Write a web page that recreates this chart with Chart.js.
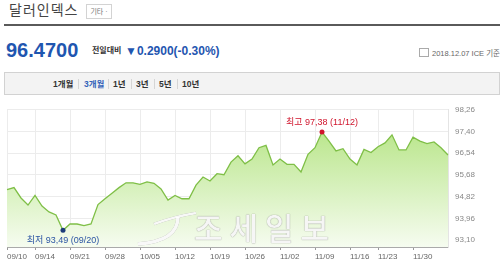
<!DOCTYPE html>
<html>
<head>
<meta charset="utf-8">
<script src="https://cdn.jsdelivr.net/npm/chart.js@4"></script>
<style>
  html, body { margin: 0; padding: 0; background: #fff; }
  body { width: 500px; height: 266px; position: relative; overflow: hidden;
         font-family: "Liberation Sans", Arial, "Noto Sans CJK KR", sans-serif; }
  .abs { position: absolute; white-space: nowrap; }
  #title { left: 9px; top: 3px; font-size: 14px; line-height: 14px; color: #444; letter-spacing: 1px; }
  #tag { left: 86px; top: 4px; width: 24px; height: 13px; border: 1px solid #d3d3d3; font-size: 7px;
         line-height: 13px; color: #777; text-align: center; }
  #rule { left: 4px; top: 24px; width: 496px; height: 2px; background: #5a5a5a; }
  #price { left: 6px; top: 40px; font-size: 20px; line-height: 20px; font-weight: bold; color: #1f56b0; }
  #diffLabel { left: 92px; top: 46px; font-size: 8px; line-height: 10px; color: #333; font-weight: bold; }
  #diff { left: 125px; top: 45px; font-size: 12px; line-height: 12px; font-weight: bold; color: #1f56b0; }
  #asof { left: 419px; top: 48px; font-size: 7.5px; line-height: 9px; color: #666; }
  #asof i { display: inline-block; width: 8px; height: 7px; border: 1px solid #aaa; margin-right: 3px; vertical-align: -1px; }
  #tabs { left: 4px; top: 72px; width: 494px; height: 21px; border: 1px solid #d2d2d2; background: #f3f3f3; }
  .tab { top: 79px; font-size: 8.5px; line-height: 10px; font-weight: bold; color: #333; }
  .sep { top: 79px; width: 1px; height: 10px; background: #d5d5d5; }
  #chart { position: absolute; left: 0; top: 98px; }
  #mark { left: 194px; top: 207px; font-size: 31px; line-height: 40px; font-weight: 500; letter-spacing: 7px;
          font-family: "Noto Sans CJK KR", sans-serif;
          color: rgba(255,255,255,0.92);
          text-shadow: 0 0 1px rgba(90,90,90,0.55), 0 0 1px rgba(90,90,90,0.35); }
  #swoosh { position: absolute; left: 132px; top: 208px; }
</style>
</head>
<body>
<div class="abs" id="title">달러인덱스</div>
<div class="abs" id="tag">기타 ·</div>
<div class="abs" id="rule"></div>
<div class="abs" id="price">96.4700</div>
<div class="abs" id="diffLabel">전일대비</div>
<div class="abs" id="diff">▼0.2900(-0.30%)</div>
<div class="abs" id="asof"><i></i>2018.12.07 ICE 기준</div>
<div class="abs" id="tabs"></div>
<div class="abs tab" style="left:53px">1개월</div>
<div class="abs sep" style="left:78px"></div>
<div class="abs tab" style="left:84px;color:#3563b9">3개월</div>
<div class="abs sep" style="left:108px"></div>
<div class="abs tab" style="left:113px">1년</div>
<div class="abs sep" style="left:131px"></div>
<div class="abs tab" style="left:136px">3년</div>
<div class="abs sep" style="left:154px"></div>
<div class="abs tab" style="left:159px">5년</div>
<div class="abs sep" style="left:177px"></div>
<div class="abs tab" style="left:182px">10년</div>
<canvas id="chart" width="500" height="168"></canvas>
<svg id="swoosh" width="70" height="45">
  <g fill="none" stroke="rgba(255,255,255,0.92)" style="filter: drop-shadow(0 0 0.6px rgba(90,90,90,0.6))">
    <path d="M22 16 C 38 10, 52 7, 64 5" stroke-width="2.5"/>
    <path d="M46 9 C 46 24, 34 34, 6 36" stroke-width="3.5"/>
  </g>
</svg>
<div class="abs" id="mark">조세일보</div>
<script>
const dates = [
  '09/10', '09/11', '09/12', '09/13', '09/14',
  '09/17', '09/18', '09/19', '09/20', '09/21',
  '09/24', '09/25', '09/26', '09/27', '09/28',
  '10/01', '10/02', '10/03', '10/04', '10/05',
  '10/08', '10/09', '10/10', '10/11', '10/12',
  '10/15', '10/16', '10/17', '10/18', '10/19',
  '10/22', '10/23', '10/24', '10/25', '10/26',
  '10/29', '10/30', '10/31', '11/01', '11/02',
  '11/05', '11/06', '11/07', '11/08', '11/09',
  '11/12', '11/13', '11/14', '11/15', '11/16',
  '11/19', '11/20', '11/21', '11/23',
  '11/26', '11/27', '11/28', '11/29', '11/30',
  '12/03', '12/04', '12/05', '12/06', '12/07'
];

const dollarIndex = [
  95.10, 95.18, 94.77, 94.49, 94.87,
  94.45, 94.22, 94.10, 93.49, 93.74,
  93.74, 93.68, 93.74, 94.51, 94.74,
  94.96, 95.18, 95.37, 95.37, 95.31,
  95.41, 95.35, 95.13, 94.69, 94.87,
  94.74, 94.74, 95.28, 95.60, 95.44,
  95.73, 95.69, 96.19, 96.44, 96.12,
  96.31, 96.76, 96.85, 96.08, 96.31,
  96.10, 96.10, 95.80, 96.50, 96.76,
  97.38, 97.02, 96.63, 96.72, 96.31,
  96.08, 96.69, 96.57, 96.80,
  96.95, 97.27, 96.67, 96.67, 97.18,
  97.02, 96.92, 96.99, 96.76, 96.47
];

const tickDates = ['09/10', '09/14', '09/21', '09/28', '10/05', '10/12', '10/19',
                   '10/26', '11/02', '11/09', '11/16', '11/23', '11/30'];
const yTicks = [93.10, 93.96, 94.82, 95.68, 96.54, 97.40, 98.26];

const highIdx = dollarIndex.indexOf(Math.max(...dollarIndex));
const lowIdx = dollarIndex.indexOf(Math.min(...dollarIndex));
const fmt = v => v.toFixed(2).replace('.', ',');

// 최고/최저 라벨
const markerLabels = {
  id: 'markerLabels',
  afterDatasetsDraw(chart) {
    const meta = chart.getDatasetMeta(0);
    const ctx = chart.ctx;
    const hi = meta.data[highIdx];
    const lo = meta.data[lowIdx];
    ctx.save();
    ctx.font = '9px "Liberation Sans", "Noto Sans CJK KR", sans-serif';
    ctx.textAlign = 'center';
    ctx.textBaseline = 'middle';
    ctx.fillStyle = '#d0142c';
    ctx.fillText('최고 ' + fmt(dollarIndex[highIdx]) + ' (' + dates[highIdx] + ')', hi.x, hi.y - 10);
    ctx.fillStyle = '#2c55a3';
    ctx.fillText('최저 ' + fmt(dollarIndex[lowIdx]) + ' (' + dates[lowIdx] + ')', lo.x, lo.y + 10);
    ctx.restore();
  }
};

const ctxChart = document.getElementById('chart');

new Chart(ctxChart, {
  type: 'line',
  data: {
    labels: dates,
    datasets: [{
      data: dollarIndex,
      borderColor: '#7fbf47',
      borderWidth: 1.3,
      tension: 0,
      fill: 'start',
      backgroundColor: (context) => {
        const { ctx, chartArea } = context.chart;
        if (!chartArea) return null;
        const g = ctx.createLinearGradient(0, chartArea.top, 0, chartArea.bottom);
        g.addColorStop(0, '#afe27a');
        g.addColorStop(1, '#f6fcf0');
        return g;
      },
      pointRadius: (c) => (c.dataIndex === highIdx || c.dataIndex === lowIdx) ? 2.5 : 0,
      pointBackgroundColor: (c) => c.dataIndex === highIdx ? '#d0142c' : '#1d3d7a',
      pointBorderWidth: 0,
    }]
  },
  options: {
    responsive: false,
    animation: false,
    devicePixelRatio: 1,
    layout: { padding: { left: 7, top: 8, right: 0, bottom: 0 } },
    plugins: {
      legend: { display: false },
      tooltip: { enabled: false },
    },
    scales: {
      x: {
        type: 'category',
        offset: false,
        afterBuildTicks: (scale) => {
          scale.ticks = scale.ticks.filter(t => tickDates.includes(dates[t.value]));
        },
        afterFit: (scale) => { scale.height = 19; },
        grid: { color: '#ececec', tickColor: '#999', tickLength: 3, offset: false },
        border: { color: '#aaa' },
        ticks: {
          autoSkip: false,
          maxRotation: 0,
          align: 'start',
          padding: 2,
          color: '#666',
          font: { size: 8, family: '"Liberation Sans", Arial, sans-serif' },
        },
      },
      y: {
        position: 'right',
        min: 92.83,
        max: 98.26,
        bounds: 'data',
        afterBuildTicks: (scale) => {
          scale.ticks = yTicks.map(v => ({ value: v }));
        },
        afterFit: (scale) => { scale.width = 52; },
        grid: { color: '#ececec', drawTicks: false },
        border: { color: '#e4e4e4' },
        ticks: {
          padding: 7,
          color: '#888',
          font: { size: 8, family: '"Liberation Sans", Arial, sans-serif' },
          callback: (v) => fmt(v),
        },
      },
    },
  },
  plugins: [markerLabels],
});
</script>
</body>
</html>
